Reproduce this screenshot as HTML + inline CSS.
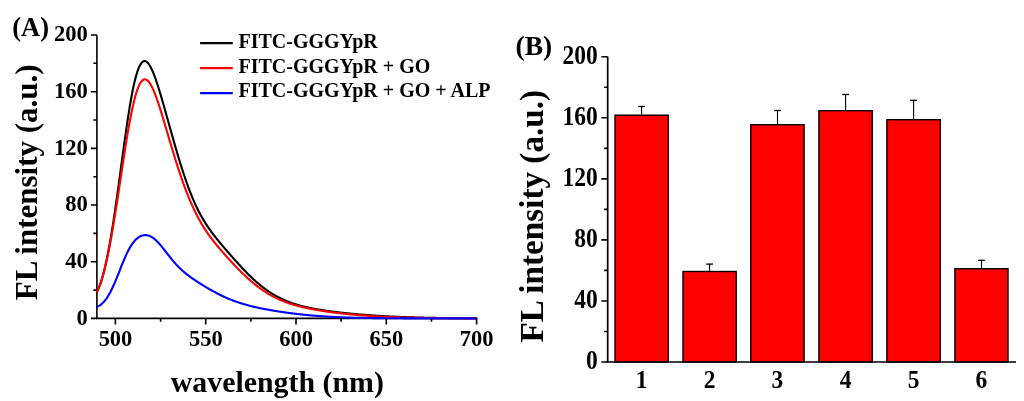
<!DOCTYPE html>
<html><head><meta charset="utf-8"><style>
html,body{margin:0;padding:0;background:#fff;}
body{width:1024px;height:401px;overflow:hidden;font-family:"Liberation Serif",serif;}
svg{display:block;will-change:transform;}
</style></head><body>
<svg width="1024" height="401" viewBox="0 0 1024 401">
<rect width="1024" height="401" fill="#fff"/>
<path d="M96.9,35.0 V318.4 M96.10000000000001,318.4 H477.5" stroke="#000" stroke-width="1.6" fill="none"/>
<path d="M96.9,291.80 L97.4,290.83 L97.9,289.79 L98.4,288.68 L98.9,287.51 L99.4,286.27 L99.9,284.95 L100.4,283.56 L100.9,282.10 L101.4,280.56 L101.9,278.95 L102.4,277.25 L102.9,275.48 L103.4,273.63 L103.9,271.70 L104.4,269.69 L104.9,267.59 L105.4,265.42 L105.9,263.18 L106.4,260.87 L106.9,258.49 L107.4,256.03 L107.9,253.51 L108.4,250.92 L108.9,248.26 L109.4,245.53 L109.9,242.74 L110.4,239.88 L110.9,236.95 L111.4,233.96 L111.9,230.90 L112.4,227.79 L112.9,224.61 L113.4,221.38 L113.9,218.10 L114.4,214.76 L114.9,211.38 L115.4,207.94 L115.9,204.47 L116.4,200.95 L116.9,197.40 L117.4,193.82 L117.9,190.20 L118.4,186.56 L118.9,182.90 L119.4,179.22 L119.9,175.53 L120.4,171.82 L120.9,168.12 L121.4,164.41 L121.9,160.71 L122.4,157.01 L122.9,153.33 L123.4,149.67 L123.9,146.02 L124.4,142.41 L124.9,138.83 L125.4,135.29 L125.9,131.78 L126.4,128.33 L126.9,124.92 L127.4,121.57 L127.9,118.28 L128.4,115.05 L128.9,111.89 L129.4,108.80 L129.9,105.79 L130.4,102.85 L130.9,100.00 L131.4,97.23 L131.9,94.55 L132.4,91.97 L132.9,89.48 L133.4,87.08 L133.9,84.78 L134.4,82.59 L134.9,80.50 L135.4,78.51 L135.9,76.63 L136.4,74.85 L136.9,73.19 L137.4,71.63 L137.9,70.18 L138.4,68.84 L138.9,67.61 L139.4,66.49 L139.9,65.47 L140.4,64.57 L140.9,63.77 L141.4,63.08 L141.9,62.49 L142.4,62.01 L142.9,61.63 L143.4,61.35 L143.9,61.16 L144.4,61.07 L144.9,61.08 L145.4,61.18 L145.9,61.37 L146.4,61.64 L146.9,62.00 L147.4,62.45 L147.9,62.97 L148.4,63.57 L148.9,64.24 L149.4,64.98 L149.9,65.79 L150.4,66.67 L150.9,67.61 L151.4,68.61 L151.9,69.67 L152.4,70.78 L152.9,71.95 L153.4,73.16 L153.9,74.42 L154.4,75.73 L154.9,77.08 L155.4,78.46 L155.9,79.89 L156.4,81.34 L156.9,82.84 L157.4,84.36 L157.9,85.91 L158.4,87.48 L158.9,89.08 L159.4,90.71 L159.9,92.35 L160.4,94.01 L160.9,95.69 L161.4,97.39 L161.9,99.10 L162.4,100.82 L162.9,102.56 L163.4,104.30 L163.9,106.06 L164.4,107.82 L164.9,109.59 L165.4,111.37 L165.9,113.15 L166.4,114.93 L166.9,116.72 L167.4,118.51 L167.9,120.30 L168.4,122.09 L168.9,123.89 L169.4,125.68 L169.9,127.47 L170.4,129.25 L170.9,131.04 L171.4,132.82 L171.9,134.59 L172.4,136.36 L172.9,138.13 L173.4,139.88 L173.9,141.64 L174.4,143.38 L174.9,145.12 L175.4,146.85 L175.9,148.57 L176.4,150.28 L176.9,151.98 L177.4,153.67 L177.9,155.35 L178.4,157.02 L178.9,158.68 L179.4,160.32 L179.9,161.95 L180.4,163.57 L180.9,165.18 L181.4,166.77 L181.9,168.34 L182.4,169.91 L182.9,171.45 L183.4,172.98 L183.9,174.50 L184.4,176.00 L184.9,177.48 L185.4,178.94 L185.9,180.39 L186.4,181.82 L186.9,183.24 L187.4,184.63 L187.9,186.01 L188.4,187.37 L188.9,188.71 L189.4,190.04 L189.9,191.34 L190.4,192.63 L190.9,193.89 L191.4,195.14 L191.9,196.37 L192.4,197.58 L192.9,198.78 L193.4,199.95 L193.9,201.10 L194.4,202.24 L194.9,203.36 L195.4,204.46 L195.9,205.55 L196.4,206.61 L196.9,207.66 L197.4,208.69 L197.9,209.70 L198.4,210.70 L198.9,211.68 L199.4,212.64 L199.9,213.59 L200.4,214.53 L200.9,215.44 L201.4,216.35 L201.9,217.23 L202.4,218.11 L202.9,218.97 L203.4,219.81 L203.9,220.65 L204.4,221.47 L204.9,222.28 L205.4,223.07 L205.9,223.86 L206.4,224.63 L206.9,225.40 L207.4,226.15 L207.9,226.89 L208.4,227.63 L208.9,228.35 L209.4,229.06 L209.9,229.77 L210.4,230.47 L210.9,231.16 L211.4,231.84 L211.9,232.52 L212.4,233.19 L212.9,233.85 L213.4,234.51 L213.9,235.16 L214.4,235.81 L214.9,236.45 L215.4,237.09 L215.9,237.72 L216.4,238.35 L216.9,238.97 L217.4,239.59 L217.9,240.20 L218.4,240.82 L218.9,241.43 L219.4,242.03 L219.9,242.64 L220.4,243.24 L220.9,243.84 L221.4,244.43 L221.9,245.03 L222.4,245.62 L222.9,246.21 L223.4,246.80 L223.9,247.39 L224.4,247.97 L224.9,248.56 L225.4,249.14 L225.9,249.72 L226.4,250.30 L226.9,250.88 L227.4,251.46 L227.9,252.03 L228.4,252.61 L228.9,253.18 L229.4,253.76 L229.9,254.33 L230.4,254.90 L230.9,255.47 L231.4,256.04 L231.9,256.61 L232.4,257.17 L232.9,257.74 L233.4,258.30 L233.9,258.87 L234.4,259.43 L234.9,259.99 L235.4,260.55 L235.9,261.11 L236.4,261.66 L236.9,262.22 L237.4,262.77 L237.9,263.32 L238.4,263.87 L238.9,264.42 L239.4,264.97 L239.9,265.51 L240.4,266.05 L240.9,266.59 L241.4,267.13 L241.9,267.66 L242.4,268.20 L242.9,268.73 L243.4,269.26 L243.9,269.78 L244.4,270.31 L244.9,270.83 L245.4,271.35 L245.9,271.86 L246.4,272.37 L246.9,272.88 L247.4,273.39 L247.9,273.89 L248.4,274.39 L248.9,274.89 L249.4,275.38 L249.9,275.87 L250.4,276.36 L250.9,276.84 L251.4,277.32 L251.9,277.80 L252.4,278.27 L252.9,278.74 L253.4,279.21 L253.9,279.67 L254.4,280.13 L254.9,280.58 L255.4,281.03 L255.9,281.48 L256.4,281.92 L256.9,282.36 L257.4,282.80 L257.9,283.23 L258.4,283.65 L258.9,284.07 L259.4,284.49 L259.9,284.91 L260.4,285.32 L260.9,285.72 L261.4,286.12 L261.9,286.52 L262.4,286.91 L262.9,287.30 L263.4,287.69 L263.9,288.07 L264.4,288.44 L264.9,288.81 L265.4,289.18 L265.9,289.54 L266.4,289.90 L266.9,290.26 L267.4,290.61 L267.9,290.95 L268.4,291.30 L268.9,291.63 L269.4,291.97 L269.9,292.30 L270.4,292.62 L270.9,292.94 L271.4,293.26 L271.9,293.57 L272.4,293.88 L272.9,294.18 L273.4,294.49 L273.9,294.78 L274.4,295.07 L274.9,295.36 L275.4,295.65 L275.9,295.93 L276.4,296.21 L276.9,296.48 L277.4,296.75 L277.9,297.01 L278.4,297.27 L278.9,297.53 L279.4,297.79 L279.9,298.04 L280.4,298.28 L280.9,298.53 L281.4,298.77 L281.9,299.00 L282.4,299.24 L282.9,299.47 L283.4,299.69 L283.9,299.92 L284.4,300.14 L284.9,300.35 L285.4,300.57 L285.9,300.78 L286.4,300.98 L286.9,301.19 L287.4,301.39 L287.9,301.58 L288.4,301.78 L288.9,301.97 L289.4,302.16 L289.9,302.35 L290.4,302.53 L290.9,302.71 L291.4,302.89 L291.9,303.06 L292.4,303.24 L292.9,303.41 L293.4,303.57 L293.9,303.74 L294.4,303.90 L294.9,304.06 L295.4,304.22 L295.9,304.37 L296.4,304.53 L296.9,304.68 L297.4,304.83 L297.9,304.97 L298.4,305.12 L298.9,305.26 L299.4,305.40 L299.9,305.54 L300.4,305.67 L300.9,305.81 L301.4,305.94 L301.9,306.07 L302.4,306.20 L302.9,306.33 L303.4,306.45 L303.9,306.57 L304.4,306.70 L304.9,306.82 L305.4,306.93 L305.9,307.05 L306.4,307.17 L306.9,307.28 L307.4,307.39 L307.9,307.50 L308.4,307.61 L308.9,307.72 L309.4,307.82 L309.9,307.93 L310.4,308.03 L310.9,308.13 L311.4,308.23 L311.9,308.33 L312.4,308.43 L312.9,308.53 L313.4,308.63 L313.9,308.72 L314.4,308.81 L314.9,308.91 L315.4,309.00 L315.9,309.09 L316.4,309.18 L316.9,309.27 L317.4,309.35 L317.9,309.44 L318.4,309.52 L318.9,309.61 L319.4,309.69 L319.9,309.77 L320.4,309.86 L320.9,309.94 L321.4,310.02 L321.9,310.10 L322.4,310.17 L322.9,310.25 L323.4,310.33 L323.9,310.40 L324.4,310.48 L324.9,310.55 L325.4,310.63 L325.9,310.70 L326.4,310.77 L326.9,310.84 L327.4,310.92 L327.9,310.99 L328.4,311.06 L328.9,311.12 L329.4,311.19 L329.9,311.26 L330.4,311.33 L330.9,311.39 L331.4,311.46 L331.9,311.53 L332.4,311.59 L332.9,311.65 L333.4,311.72 L333.9,311.78 L334.4,311.84 L334.9,311.91 L335.4,311.97 L335.9,312.03 L336.4,312.09 L336.9,312.15 L337.4,312.21 L337.9,312.27 L338.4,312.33 L338.9,312.39 L339.4,312.44 L339.9,312.50 L340.4,312.56 L340.9,312.61 L341.4,312.67 L341.9,312.73 L342.4,312.78 L342.9,312.84 L343.4,312.89 L343.9,312.94 L344.4,313.00 L344.9,313.05 L345.4,313.10 L345.9,313.15 L346.4,313.21 L346.9,313.26 L347.4,313.31 L347.9,313.36 L348.4,313.41 L348.9,313.46 L349.4,313.51 L349.9,313.56 L350.4,313.61 L350.9,313.66 L351.4,313.70 L351.9,313.75 L352.4,313.80 L352.9,313.85 L353.4,313.89 L353.9,313.94 L354.4,313.99 L354.9,314.03 L355.4,314.08 L355.9,314.12 L356.4,314.17 L356.9,314.21 L357.4,314.26 L357.9,314.30 L358.4,314.34 L358.9,314.39 L359.4,314.43 L359.9,314.47 L360.4,314.51 L360.9,314.55 L361.4,314.60 L361.9,314.64 L362.4,314.68 L362.9,314.72 L363.4,314.76 L363.9,314.80 L364.4,314.84 L364.9,314.88 L365.4,314.92 L365.9,314.95 L366.4,314.99 L366.9,315.03 L367.4,315.07 L367.9,315.11 L368.4,315.14 L368.9,315.18 L369.4,315.22 L369.9,315.25 L370.4,315.29 L370.9,315.32 L371.4,315.36 L371.9,315.39 L372.4,315.43 L372.9,315.46 L373.4,315.50 L373.9,315.53 L374.4,315.56 L374.9,315.60 L375.4,315.63 L375.9,315.66 L376.4,315.70 L376.9,315.73 L377.4,315.76 L377.9,315.79 L378.4,315.82 L378.9,315.85 L379.4,315.88 L379.9,315.91 L380.4,315.94 L380.9,315.97 L381.4,316.00 L381.9,316.03 L382.4,316.06 L382.9,316.09 L383.4,316.12 L383.9,316.15 L384.4,316.18 L384.9,316.20 L385.4,316.23 L385.9,316.26 L386.4,316.29 L386.9,316.31 L387.4,316.34 L387.9,316.37 L388.4,316.39 L388.9,316.42 L389.4,316.44 L389.9,316.47 L390.4,316.49 L390.9,316.52 L391.4,316.54 L391.9,316.57 L392.4,316.59 L392.9,316.61 L393.4,316.64 L393.9,316.66 L394.4,316.68 L394.9,316.71 L395.4,316.73 L395.9,316.75 L396.4,316.77 L396.9,316.79 L397.4,316.82 L397.9,316.84 L398.4,316.86 L398.9,316.88 L399.4,316.90 L399.9,316.92 L400.4,316.94 L400.9,316.96 L401.4,316.98 L401.9,317.00 L402.4,317.02 L402.9,317.04 L403.4,317.06 L403.9,317.08 L404.4,317.10 L404.9,317.11 L405.4,317.13 L405.9,317.15 L406.4,317.17 L406.9,317.18 L407.4,317.20 L407.9,317.22 L408.4,317.24 L408.9,317.25 L409.4,317.27 L409.9,317.29 L410.4,317.30 L410.9,317.32 L411.4,317.33 L411.9,317.35 L412.4,317.36 L412.9,317.38 L413.4,317.39 L413.9,317.41 L414.4,317.42 L414.9,317.44 L415.4,317.45 L415.9,317.47 L416.4,317.48 L416.9,317.49 L417.4,317.51 L417.9,317.52 L418.4,317.53 L418.9,317.55 L419.4,317.56 L419.9,317.57 L420.4,317.59 L420.9,317.60 L421.4,317.61 L421.9,317.62 L422.4,317.63 L422.9,317.65 L423.4,317.66 L423.9,317.67 L424.4,317.68 L424.9,317.69 L425.4,317.70 L425.9,317.71 L426.4,317.73 L426.9,317.74 L427.4,317.75 L427.9,317.76 L428.4,317.77 L428.9,317.78 L429.4,317.79 L429.9,317.80 L430.4,317.81 L430.9,317.82 L431.4,317.83 L431.9,317.83 L432.4,317.84 L432.9,317.85 L433.4,317.86 L433.9,317.87 L434.4,317.88 L434.9,317.89 L435.4,317.90 L435.9,317.90 L436.4,317.91 L436.9,317.92 L437.4,317.93 L437.9,317.94 L438.4,317.94 L438.9,317.95 L439.4,317.96 L439.9,317.97 L440.4,317.97 L440.9,317.98 L441.4,317.99 L441.9,318.00 L442.4,318.00 L442.9,318.01 L443.4,318.02 L443.9,318.02 L444.4,318.03 L444.9,318.04 L445.4,318.04 L445.9,318.05 L446.4,318.05 L446.9,318.06 L447.4,318.07 L447.9,318.07 L448.4,318.08 L448.9,318.08 L449.4,318.09 L449.9,318.09 L450.4,318.10 L450.9,318.10 L451.4,318.11 L451.9,318.11 L452.4,318.12 L452.9,318.12 L453.4,318.13 L453.9,318.13 L454.4,318.14 L454.9,318.14 L455.4,318.15 L455.9,318.15 L456.4,318.16 L456.9,318.16 L457.4,318.17 L457.9,318.17 L458.4,318.17 L458.9,318.18 L459.4,318.18 L459.9,318.19 L460.4,318.19 L460.9,318.19 L461.4,318.20 L461.9,318.20 L462.4,318.21 L462.9,318.21 L463.4,318.21 L463.9,318.22 L464.4,318.22 L464.9,318.22 L465.4,318.23 L465.9,318.23 L466.4,318.23 L466.9,318.24 L467.4,318.24 L467.9,318.24 L468.4,318.25 L468.9,318.25 L469.4,318.25 L469.9,318.25 L470.4,318.26 L470.9,318.26 L471.4,318.26 L471.9,318.27 L472.4,318.27 L472.9,318.27 L473.4,318.27 L473.9,318.28 L474.4,318.28 L474.9,318.28 L475.4,318.28 L475.9,318.28 L476.4,318.29" fill="none" stroke="#000" stroke-width="2.1" stroke-linejoin="round"/>
<path d="M96.9,292.20 L97.4,291.17 L97.9,290.09 L98.4,288.94 L98.9,287.73 L99.4,286.46 L99.9,285.12 L100.4,283.72 L100.9,282.26 L101.4,280.73 L101.9,279.13 L102.4,277.46 L102.9,275.72 L103.4,273.92 L103.9,272.04 L104.4,270.10 L104.9,268.08 L105.4,266.00 L105.9,263.86 L106.4,261.66 L106.9,259.40 L107.4,257.08 L107.9,254.70 L108.4,252.26 L108.9,249.76 L109.4,247.21 L109.9,244.60 L110.4,241.93 L110.9,239.21 L111.4,236.44 L111.9,233.61 L112.4,230.74 L112.9,227.82 L113.4,224.85 L113.9,221.84 L114.4,218.79 L114.9,215.69 L115.4,212.57 L115.9,209.40 L116.4,206.21 L116.9,202.99 L117.4,199.74 L117.9,196.47 L118.4,193.19 L118.9,189.88 L119.4,186.57 L119.9,183.24 L120.4,179.91 L120.9,176.58 L121.4,173.25 L121.9,169.93 L122.4,166.62 L122.9,163.32 L123.4,160.04 L123.9,156.78 L124.4,153.55 L124.9,150.34 L125.4,147.17 L125.9,144.04 L126.4,140.94 L126.9,137.89 L127.4,134.89 L127.9,131.94 L128.4,129.04 L128.9,126.21 L129.4,123.43 L129.9,120.72 L130.4,118.08 L130.9,115.51 L131.4,113.02 L131.9,110.60 L132.4,108.26 L132.9,106.00 L133.4,103.82 L133.9,101.73 L134.4,99.73 L134.9,97.82 L135.4,96.00 L135.9,94.27 L136.4,92.63 L136.9,91.09 L137.4,89.64 L137.9,88.29 L138.4,87.04 L138.9,85.88 L139.4,84.82 L139.9,83.85 L140.4,82.98 L140.9,82.21 L141.4,81.53 L141.9,80.95 L142.4,80.46 L142.9,80.06 L143.4,79.76 L143.9,79.54 L144.4,79.41 L144.9,79.37 L145.4,79.42 L145.9,79.54 L146.4,79.75 L146.9,80.04 L147.4,80.41 L147.9,80.85 L148.4,81.37 L148.9,81.95 L149.4,82.61 L149.9,83.33 L150.4,84.11 L150.9,84.96 L151.4,85.87 L151.9,86.83 L152.4,87.85 L152.9,88.91 L153.4,90.03 L153.9,91.20 L154.4,92.41 L154.9,93.66 L155.4,94.96 L155.9,96.29 L156.4,97.65 L156.9,99.05 L157.4,100.49 L157.9,101.95 L158.4,103.44 L158.9,104.95 L159.4,106.49 L159.9,108.04 L160.4,109.62 L160.9,111.22 L161.4,112.83 L161.9,114.46 L162.4,116.10 L162.9,117.75 L163.4,119.41 L163.9,121.08 L164.4,122.76 L164.9,124.44 L165.4,126.13 L165.9,127.82 L166.4,129.52 L166.9,131.21 L167.4,132.91 L167.9,134.61 L168.4,136.30 L168.9,138.00 L169.4,139.69 L169.9,141.38 L170.4,143.06 L170.9,144.74 L171.4,146.41 L171.9,148.07 L172.4,149.73 L172.9,151.38 L173.4,153.03 L173.9,154.66 L174.4,156.28 L174.9,157.90 L175.4,159.50 L175.9,161.10 L176.4,162.68 L176.9,164.26 L177.4,165.82 L177.9,167.36 L178.4,168.90 L178.9,170.42 L179.4,171.94 L179.9,173.43 L180.4,174.92 L180.9,176.39 L181.4,177.84 L181.9,179.28 L182.4,180.71 L182.9,182.12 L183.4,183.52 L183.9,184.90 L184.4,186.27 L184.9,187.62 L185.4,188.96 L185.9,190.28 L186.4,191.58 L186.9,192.87 L187.4,194.14 L187.9,195.40 L188.4,196.64 L188.9,197.87 L189.4,199.08 L189.9,200.27 L190.4,201.45 L190.9,202.61 L191.4,203.75 L191.9,204.88 L192.4,205.99 L192.9,207.09 L193.4,208.17 L193.9,209.24 L194.4,210.29 L194.9,211.32 L195.4,212.34 L195.9,213.35 L196.4,214.34 L196.9,215.31 L197.4,216.27 L197.9,217.22 L198.4,218.16 L198.9,219.07 L199.4,219.98 L199.9,220.87 L200.4,221.75 L200.9,222.62 L201.4,223.47 L201.9,224.32 L202.4,225.15 L202.9,225.96 L203.4,226.77 L203.9,227.57 L204.4,228.35 L204.9,229.13 L205.4,229.89 L205.9,230.65 L206.4,231.39 L206.9,232.13 L207.4,232.86 L207.9,233.58 L208.4,234.29 L208.9,234.99 L209.4,235.68 L209.9,236.37 L210.4,237.05 L210.9,237.72 L211.4,238.39 L211.9,239.05 L212.4,239.70 L212.9,240.35 L213.4,240.99 L213.9,241.63 L214.4,242.26 L214.9,242.89 L215.4,243.51 L215.9,244.13 L216.4,244.74 L216.9,245.35 L217.4,245.96 L217.9,246.56 L218.4,247.16 L218.9,247.75 L219.4,248.34 L219.9,248.93 L220.4,249.52 L220.9,250.10 L221.4,250.68 L221.9,251.26 L222.4,251.83 L222.9,252.40 L223.4,252.97 L223.9,253.54 L224.4,254.11 L224.9,254.67 L225.4,255.23 L225.9,255.79 L226.4,256.35 L226.9,256.90 L227.4,257.46 L227.9,258.01 L228.4,258.56 L228.9,259.11 L229.4,259.65 L229.9,260.20 L230.4,260.74 L230.9,261.28 L231.4,261.82 L231.9,262.36 L232.4,262.89 L232.9,263.43 L233.4,263.96 L233.9,264.49 L234.4,265.02 L234.9,265.54 L235.4,266.07 L235.9,266.59 L236.4,267.11 L236.9,267.62 L237.4,268.14 L237.9,268.65 L238.4,269.16 L238.9,269.67 L239.4,270.18 L239.9,270.68 L240.4,271.18 L240.9,271.68 L241.4,272.17 L241.9,272.67 L242.4,273.16 L242.9,273.64 L243.4,274.13 L243.9,274.61 L244.4,275.09 L244.9,275.57 L245.4,276.04 L245.9,276.51 L246.4,276.97 L246.9,277.44 L247.4,277.90 L247.9,278.35 L248.4,278.81 L248.9,279.25 L249.4,279.70 L249.9,280.14 L250.4,280.58 L250.9,281.02 L251.4,281.45 L251.9,281.88 L252.4,282.30 L252.9,282.72 L253.4,283.14 L253.9,283.55 L254.4,283.96 L254.9,284.37 L255.4,284.77 L255.9,285.17 L256.4,285.56 L256.9,285.95 L257.4,286.34 L257.9,286.72 L258.4,287.10 L258.9,287.48 L259.4,287.85 L259.9,288.21 L260.4,288.58 L260.9,288.93 L261.4,289.29 L261.9,289.64 L262.4,289.99 L262.9,290.33 L263.4,290.67 L263.9,291.00 L264.4,291.33 L264.9,291.66 L265.4,291.99 L265.9,292.30 L266.4,292.62 L266.9,292.93 L267.4,293.24 L267.9,293.54 L268.4,293.84 L268.9,294.14 L269.4,294.43 L269.9,294.72 L270.4,295.00 L270.9,295.29 L271.4,295.56 L271.9,295.84 L272.4,296.11 L272.9,296.37 L273.4,296.64 L273.9,296.90 L274.4,297.15 L274.9,297.41 L275.4,297.65 L275.9,297.90 L276.4,298.14 L276.9,298.38 L277.4,298.62 L277.9,298.85 L278.4,299.08 L278.9,299.31 L279.4,299.53 L279.9,299.75 L280.4,299.97 L280.9,300.18 L281.4,300.39 L281.9,300.60 L282.4,300.80 L282.9,301.00 L283.4,301.20 L283.9,301.40 L284.4,301.59 L284.9,301.79 L285.4,301.97 L285.9,302.16 L286.4,302.34 L286.9,302.52 L287.4,302.70 L287.9,302.88 L288.4,303.05 L288.9,303.22 L289.4,303.39 L289.9,303.55 L290.4,303.72 L290.9,303.88 L291.4,304.04 L291.9,304.19 L292.4,304.35 L292.9,304.50 L293.4,304.65 L293.9,304.80 L294.4,304.95 L294.9,305.09 L295.4,305.24 L295.9,305.38 L296.4,305.52 L296.9,305.65 L297.4,305.79 L297.9,305.92 L298.4,306.05 L298.9,306.18 L299.4,306.31 L299.9,306.44 L300.4,306.56 L300.9,306.69 L301.4,306.81 L301.9,306.93 L302.4,307.05 L302.9,307.17 L303.4,307.28 L303.9,307.40 L304.4,307.51 L304.9,307.63 L305.4,307.74 L305.9,307.85 L306.4,307.95 L306.9,308.06 L307.4,308.17 L307.9,308.27 L308.4,308.38 L308.9,308.48 L309.4,308.58 L309.9,308.68 L310.4,308.78 L310.9,308.88 L311.4,308.97 L311.9,309.07 L312.4,309.16 L312.9,309.26 L313.4,309.35 L313.9,309.44 L314.4,309.53 L314.9,309.62 L315.4,309.71 L315.9,309.80 L316.4,309.89 L316.9,309.98 L317.4,310.06 L317.9,310.15 L318.4,310.23 L318.9,310.31 L319.4,310.40 L319.9,310.48 L320.4,310.56 L320.9,310.64 L321.4,310.72 L321.9,310.80 L322.4,310.88 L322.9,310.95 L323.4,311.03 L323.9,311.11 L324.4,311.18 L324.9,311.26 L325.4,311.33 L325.9,311.41 L326.4,311.48 L326.9,311.55 L327.4,311.62 L327.9,311.69 L328.4,311.76 L328.9,311.83 L329.4,311.90 L329.9,311.97 L330.4,312.04 L330.9,312.11 L331.4,312.17 L331.9,312.24 L332.4,312.31 L332.9,312.37 L333.4,312.44 L333.9,312.50 L334.4,312.56 L334.9,312.63 L335.4,312.69 L335.9,312.75 L336.4,312.81 L336.9,312.88 L337.4,312.94 L337.9,313.00 L338.4,313.06 L338.9,313.12 L339.4,313.17 L339.9,313.23 L340.4,313.29 L340.9,313.35 L341.4,313.40 L341.9,313.46 L342.4,313.52 L342.9,313.57 L343.4,313.63 L343.9,313.68 L344.4,313.74 L344.9,313.79 L345.4,313.84 L345.9,313.90 L346.4,313.95 L346.9,314.00 L347.4,314.05 L347.9,314.10 L348.4,314.15 L348.9,314.20 L349.4,314.25 L349.9,314.30 L350.4,314.35 L350.9,314.40 L351.4,314.45 L351.9,314.50 L352.4,314.54 L352.9,314.59 L353.4,314.64 L353.9,314.68 L354.4,314.73 L354.9,314.77 L355.4,314.82 L355.9,314.86 L356.4,314.91 L356.9,314.95 L357.4,315.00 L357.9,315.04 L358.4,315.08 L358.9,315.12 L359.4,315.16 L359.9,315.21 L360.4,315.25 L360.9,315.29 L361.4,315.33 L361.9,315.37 L362.4,315.41 L362.9,315.45 L363.4,315.48 L363.9,315.52 L364.4,315.56 L364.9,315.60 L365.4,315.64 L365.9,315.67 L366.4,315.71 L366.9,315.74 L367.4,315.78 L367.9,315.82 L368.4,315.85 L368.9,315.89 L369.4,315.92 L369.9,315.95 L370.4,315.99 L370.9,316.02 L371.4,316.05 L371.9,316.09 L372.4,316.12 L372.9,316.15 L373.4,316.18 L373.9,316.21 L374.4,316.24 L374.9,316.27 L375.4,316.31 L375.9,316.33 L376.4,316.36 L376.9,316.39 L377.4,316.42 L377.9,316.45 L378.4,316.48 L378.9,316.51 L379.4,316.54 L379.9,316.56 L380.4,316.59 L380.9,316.62 L381.4,316.64 L381.9,316.67 L382.4,316.69 L382.9,316.72 L383.4,316.75 L383.9,316.77 L384.4,316.79 L384.9,316.82 L385.4,316.84 L385.9,316.87 L386.4,316.89 L386.9,316.91 L387.4,316.94 L387.9,316.96 L388.4,316.98 L388.9,317.00 L389.4,317.02 L389.9,317.05 L390.4,317.07 L390.9,317.09 L391.4,317.11 L391.9,317.13 L392.4,317.15 L392.9,317.17 L393.4,317.19 L393.9,317.21 L394.4,317.23 L394.9,317.25 L395.4,317.27 L395.9,317.28 L396.4,317.30 L396.9,317.32 L397.4,317.34 L397.9,317.35 L398.4,317.37 L398.9,317.39 L399.4,317.41 L399.9,317.42 L400.4,317.44 L400.9,317.45 L401.4,317.47 L401.9,317.49 L402.4,317.50 L402.9,317.52 L403.4,317.53 L403.9,317.55 L404.4,317.56 L404.9,317.58 L405.4,317.59 L405.9,317.60 L406.4,317.62 L406.9,317.63 L407.4,317.64 L407.9,317.66 L408.4,317.67 L408.9,317.68 L409.4,317.70 L409.9,317.71 L410.4,317.72 L410.9,317.73 L411.4,317.74 L411.9,317.76 L412.4,317.77 L412.9,317.78 L413.4,317.79 L413.9,317.80 L414.4,317.81 L414.9,317.82 L415.4,317.83 L415.9,317.84 L416.4,317.85 L416.9,317.86 L417.4,317.87 L417.9,317.88 L418.4,317.89 L418.9,317.90 L419.4,317.91 L419.9,317.92 L420.4,317.93 L420.9,317.94 L421.4,317.95 L421.9,317.95 L422.4,317.96 L422.9,317.97 L423.4,317.98 L423.9,317.99 L424.4,317.99 L424.9,318.00 L425.4,318.01 L425.9,318.02 L426.4,318.03 L426.9,318.03 L427.4,318.04 L427.9,318.05 L428.4,318.05 L428.9,318.06 L429.4,318.07 L429.9,318.07 L430.4,318.08 L430.9,318.09 L431.4,318.09 L431.9,318.10 L432.4,318.10 L432.9,318.11 L433.4,318.12 L433.9,318.12 L434.4,318.13 L434.9,318.13 L435.4,318.14 L435.9,318.14 L436.4,318.15 L436.9,318.15 L437.4,318.16 L437.9,318.16 L438.4,318.17 L438.9,318.17 L439.4,318.18 L439.9,318.18 L440.4,318.19 L440.9,318.19 L441.4,318.20 L441.9,318.20 L442.4,318.20 L442.9,318.21 L443.4,318.21 L443.9,318.22 L444.4,318.22 L444.9,318.22 L445.4,318.23 L445.9,318.23 L446.4,318.23 L446.9,318.24 L447.4,318.24 L447.9,318.24 L448.4,318.25 L448.9,318.25 L449.4,318.25 L449.9,318.26 L450.4,318.26 L450.9,318.26 L451.4,318.27 L451.9,318.27 L452.4,318.27 L452.9,318.28 L453.4,318.28 L453.9,318.28 L454.4,318.28 L454.9,318.29 L455.4,318.29 L455.9,318.29 L456.4,318.29 L456.9,318.30 L457.4,318.30 L457.9,318.30 L458.4,318.30 L458.9,318.30 L459.4,318.31 L459.9,318.31 L460.4,318.31 L460.9,318.31 L461.4,318.31 L461.9,318.32 L462.4,318.32 L462.9,318.32 L463.4,318.32 L463.9,318.32 L464.4,318.33 L464.9,318.33 L465.4,318.33 L465.9,318.33 L466.4,318.33 L466.9,318.33 L467.4,318.34 L467.9,318.34 L468.4,318.34 L468.9,318.34 L469.4,318.34 L469.9,318.34 L470.4,318.34 L470.9,318.35 L471.4,318.35 L471.9,318.35 L472.4,318.35 L472.9,318.35 L473.4,318.35 L473.9,318.35 L474.4,318.35 L474.9,318.35 L475.4,318.36 L475.9,318.36 L476.4,318.36" fill="none" stroke="#f00" stroke-width="2.1" stroke-linejoin="round"/>
<path d="M96.9,306.80 L97.4,306.61 L97.9,306.39 L98.4,306.15 L98.9,305.89 L99.4,305.60 L99.9,305.29 L100.4,304.95 L100.9,304.58 L101.4,304.19 L101.9,303.77 L102.4,303.32 L102.9,302.83 L103.4,302.32 L103.9,301.77 L104.4,301.20 L104.9,300.58 L105.4,299.94 L105.9,299.27 L106.4,298.58 L106.9,297.85 L107.4,297.10 L107.9,296.31 L108.4,295.50 L108.9,294.66 L109.4,293.79 L109.9,292.89 L110.4,291.96 L110.9,291.00 L111.4,290.01 L111.9,289.00 L112.4,287.96 L112.9,286.89 L113.4,285.80 L113.9,284.68 L114.4,283.54 L114.9,282.38 L115.4,281.20 L115.9,280.01 L116.4,278.79 L116.9,277.57 L117.4,276.33 L117.9,275.08 L118.4,273.82 L118.9,272.55 L119.4,271.29 L119.9,270.02 L120.4,268.75 L120.9,267.48 L121.4,266.23 L121.9,264.97 L122.4,263.73 L122.9,262.51 L123.4,261.29 L123.9,260.09 L124.4,258.92 L124.9,257.76 L125.4,256.62 L125.9,255.51 L126.4,254.42 L126.9,253.36 L127.4,252.33 L127.9,251.33 L128.4,250.35 L128.9,249.41 L129.4,248.50 L129.9,247.62 L130.4,246.77 L130.9,245.95 L131.4,245.17 L131.9,244.42 L132.4,243.70 L132.9,243.01 L133.4,242.35 L133.9,241.73 L134.4,241.14 L134.9,240.58 L135.4,240.05 L135.9,239.55 L136.4,239.08 L136.9,238.63 L137.4,238.22 L137.9,237.83 L138.4,237.47 L138.9,237.14 L139.4,236.84 L139.9,236.56 L140.4,236.30 L140.9,236.07 L141.4,235.87 L141.9,235.69 L142.4,235.54 L142.9,235.41 L143.4,235.30 L143.9,235.22 L144.4,235.16 L144.9,235.13 L145.4,235.12 L145.9,235.14 L146.4,235.17 L146.9,235.24 L147.4,235.32 L147.9,235.43 L148.4,235.56 L148.9,235.72 L149.4,235.90 L149.9,236.10 L150.4,236.32 L150.9,236.57 L151.4,236.84 L151.9,237.13 L152.4,237.45 L152.9,237.79 L153.4,238.14 L153.9,238.52 L154.4,238.92 L154.9,239.33 L155.4,239.77 L155.9,240.22 L156.4,240.70 L156.9,241.18 L157.4,241.69 L157.9,242.21 L158.4,242.74 L158.9,243.29 L159.4,243.85 L159.9,244.42 L160.4,245.01 L160.9,245.60 L161.4,246.20 L161.9,246.82 L162.4,247.43 L162.9,248.06 L163.4,248.69 L163.9,249.33 L164.4,249.96 L164.9,250.61 L165.4,251.25 L165.9,251.90 L166.4,252.54 L166.9,253.19 L167.4,253.83 L167.9,254.48 L168.4,255.12 L168.9,255.76 L169.4,256.39 L169.9,257.02 L170.4,257.65 L170.9,258.27 L171.4,258.89 L171.9,259.50 L172.4,260.10 L172.9,260.70 L173.4,261.29 L173.9,261.87 L174.4,262.45 L174.9,263.02 L175.4,263.58 L175.9,264.13 L176.4,264.68 L176.9,265.21 L177.4,265.74 L177.9,266.26 L178.4,266.78 L178.9,267.28 L179.4,267.78 L179.9,268.27 L180.4,268.75 L180.9,269.22 L181.4,269.69 L181.9,270.15 L182.4,270.60 L182.9,271.04 L183.4,271.48 L183.9,271.91 L184.4,272.34 L184.9,272.75 L185.4,273.17 L185.9,273.57 L186.4,273.97 L186.9,274.37 L187.4,274.76 L187.9,275.15 L188.4,275.53 L188.9,275.90 L189.4,276.27 L189.9,276.64 L190.4,277.00 L190.9,277.36 L191.4,277.72 L191.9,278.07 L192.4,278.42 L192.9,278.77 L193.4,279.11 L193.9,279.45 L194.4,279.79 L194.9,280.12 L195.4,280.46 L195.9,280.79 L196.4,281.12 L196.9,281.44 L197.4,281.77 L197.9,282.09 L198.4,282.41 L198.9,282.73 L199.4,283.05 L199.9,283.36 L200.4,283.68 L200.9,283.99 L201.4,284.30 L201.9,284.61 L202.4,284.92 L202.9,285.23 L203.4,285.54 L203.9,285.84 L204.4,286.14 L204.9,286.45 L205.4,286.75 L205.9,287.05 L206.4,287.34 L206.9,287.64 L207.4,287.94 L207.9,288.23 L208.4,288.52 L208.9,288.81 L209.4,289.10 L209.9,289.39 L210.4,289.68 L210.9,289.96 L211.4,290.24 L211.9,290.53 L212.4,290.80 L212.9,291.08 L213.4,291.36 L213.9,291.63 L214.4,291.91 L214.9,292.18 L215.4,292.45 L215.9,292.71 L216.4,292.98 L216.9,293.24 L217.4,293.50 L217.9,293.76 L218.4,294.02 L218.9,294.27 L219.4,294.52 L219.9,294.77 L220.4,295.02 L220.9,295.27 L221.4,295.51 L221.9,295.75 L222.4,295.99 L222.9,296.23 L223.4,296.46 L223.9,296.69 L224.4,296.92 L224.9,297.15 L225.4,297.38 L225.9,297.60 L226.4,297.82 L226.9,298.04 L227.4,298.26 L227.9,298.47 L228.4,298.68 L228.9,298.89 L229.4,299.10 L229.9,299.30 L230.4,299.50 L230.9,299.70 L231.4,299.90 L231.9,300.09 L232.4,300.29 L232.9,300.48 L233.4,300.67 L233.9,300.85 L234.4,301.04 L234.9,301.22 L235.4,301.40 L235.9,301.58 L236.4,301.75 L236.9,301.93 L237.4,302.10 L237.9,302.27 L238.4,302.43 L238.9,302.60 L239.4,302.76 L239.9,302.92 L240.4,303.08 L240.9,303.24 L241.4,303.40 L241.9,303.55 L242.4,303.70 L242.9,303.85 L243.4,304.00 L243.9,304.15 L244.4,304.29 L244.9,304.44 L245.4,304.58 L245.9,304.72 L246.4,304.86 L246.9,305.00 L247.4,305.13 L247.9,305.26 L248.4,305.40 L248.9,305.53 L249.4,305.66 L249.9,305.79 L250.4,305.91 L250.9,306.04 L251.4,306.16 L251.9,306.29 L252.4,306.41 L252.9,306.53 L253.4,306.65 L253.9,306.77 L254.4,306.88 L254.9,307.00 L255.4,307.11 L255.9,307.23 L256.4,307.34 L256.9,307.45 L257.4,307.56 L257.9,307.67 L258.4,307.78 L258.9,307.89 L259.4,307.99 L259.9,308.10 L260.4,308.20 L260.9,308.30 L261.4,308.41 L261.9,308.51 L262.4,308.61 L262.9,308.71 L263.4,308.81 L263.9,308.91 L264.4,309.00 L264.9,309.10 L265.4,309.20 L265.9,309.29 L266.4,309.38 L266.9,309.48 L267.4,309.57 L267.9,309.66 L268.4,309.75 L268.9,309.84 L269.4,309.93 L269.9,310.02 L270.4,310.11 L270.9,310.20 L271.4,310.29 L271.9,310.37 L272.4,310.46 L272.9,310.54 L273.4,310.63 L273.9,310.71 L274.4,310.80 L274.9,310.88 L275.4,310.96 L275.9,311.04 L276.4,311.12 L276.9,311.20 L277.4,311.28 L277.9,311.36 L278.4,311.44 L278.9,311.52 L279.4,311.60 L279.9,311.67 L280.4,311.75 L280.9,311.82 L281.4,311.90 L281.9,311.97 L282.4,312.05 L282.9,312.12 L283.4,312.19 L283.9,312.26 L284.4,312.34 L284.9,312.41 L285.4,312.48 L285.9,312.55 L286.4,312.62 L286.9,312.69 L287.4,312.75 L287.9,312.82 L288.4,312.89 L288.9,312.96 L289.4,313.02 L289.9,313.09 L290.4,313.15 L290.9,313.22 L291.4,313.28 L291.9,313.35 L292.4,313.41 L292.9,313.47 L293.4,313.53 L293.9,313.59 L294.4,313.66 L294.9,313.72 L295.4,313.78 L295.9,313.84 L296.4,313.89 L296.9,313.95 L297.4,314.01 L297.9,314.07 L298.4,314.12 L298.9,314.18 L299.4,314.24 L299.9,314.29 L300.4,314.35 L300.9,314.40 L301.4,314.46 L301.9,314.51 L302.4,314.56 L302.9,314.61 L303.4,314.67 L303.9,314.72 L304.4,314.77 L304.9,314.82 L305.4,314.87 L305.9,314.92 L306.4,314.97 L306.9,315.01 L307.4,315.06 L307.9,315.11 L308.4,315.16 L308.9,315.20 L309.4,315.25 L309.9,315.29 L310.4,315.34 L310.9,315.38 L311.4,315.43 L311.9,315.47 L312.4,315.51 L312.9,315.56 L313.4,315.60 L313.9,315.64 L314.4,315.68 L314.9,315.72 L315.4,315.76 L315.9,315.80 L316.4,315.84 L316.9,315.88 L317.4,315.92 L317.9,315.96 L318.4,316.00 L318.9,316.03 L319.4,316.07 L319.9,316.11 L320.4,316.14 L320.9,316.18 L321.4,316.21 L321.9,316.25 L322.4,316.28 L322.9,316.31 L323.4,316.35 L323.9,316.38 L324.4,316.41 L324.9,316.44 L325.4,316.48 L325.9,316.51 L326.4,316.54 L326.9,316.57 L327.4,316.60 L327.9,316.63 L328.4,316.66 L328.9,316.69 L329.4,316.72 L329.9,316.74 L330.4,316.77 L330.9,316.80 L331.4,316.83 L331.9,316.85 L332.4,316.88 L332.9,316.91 L333.4,316.93 L333.9,316.96 L334.4,316.98 L334.9,317.01 L335.4,317.03 L335.9,317.05 L336.4,317.08 L336.9,317.10 L337.4,317.12 L337.9,317.15 L338.4,317.17 L338.9,317.19 L339.4,317.21 L339.9,317.23 L340.4,317.25 L340.9,317.27 L341.4,317.30 L341.9,317.32 L342.4,317.34 L342.9,317.35 L343.4,317.37 L343.9,317.39 L344.4,317.41 L344.9,317.43 L345.4,317.45 L345.9,317.47 L346.4,317.48 L346.9,317.50 L347.4,317.52 L347.9,317.53 L348.4,317.55 L348.9,317.57 L349.4,317.58 L349.9,317.60 L350.4,317.61 L350.9,317.63 L351.4,317.64 L351.9,317.66 L352.4,317.67 L352.9,317.69 L353.4,317.70 L353.9,317.71 L354.4,317.73 L354.9,317.74 L355.4,317.75 L355.9,317.77 L356.4,317.78 L356.9,317.79 L357.4,317.80 L357.9,317.81 L358.4,317.83 L358.9,317.84 L359.4,317.85 L359.9,317.86 L360.4,317.87 L360.9,317.88 L361.4,317.89 L361.9,317.90 L362.4,317.91 L362.9,317.92 L363.4,317.93 L363.9,317.94 L364.4,317.95 L364.9,317.96 L365.4,317.97 L365.9,317.98 L366.4,317.99 L366.9,318.00 L367.4,318.01 L367.9,318.01 L368.4,318.02 L368.9,318.03 L369.4,318.04 L369.9,318.05 L370.4,318.05 L370.9,318.06 L371.4,318.07 L371.9,318.08 L372.4,318.08 L372.9,318.09 L373.4,318.10 L373.9,318.10 L374.4,318.11 L374.9,318.12 L375.4,318.12 L375.9,318.13 L376.4,318.13 L376.9,318.14 L377.4,318.15 L377.9,318.15 L378.4,318.16 L378.9,318.16 L379.4,318.17 L379.9,318.17 L380.4,318.18 L380.9,318.18 L381.4,318.19 L381.9,318.19 L382.4,318.20 L382.9,318.20 L383.4,318.21 L383.9,318.21 L384.4,318.22 L384.9,318.22 L385.4,318.22 L385.9,318.23 L386.4,318.23 L386.9,318.24 L387.4,318.24 L387.9,318.24 L388.4,318.25 L388.9,318.25 L389.4,318.25 L389.9,318.26 L390.4,318.26 L390.9,318.26 L391.4,318.27 L391.9,318.27 L392.4,318.27 L392.9,318.28 L393.4,318.28 L393.9,318.28 L394.4,318.29 L394.9,318.29 L395.4,318.29 L395.9,318.29 L396.4,318.30 L396.9,318.30 L397.4,318.30 L397.9,318.30 L398.4,318.31 L398.9,318.31 L399.4,318.31 L399.9,318.31 L400.4,318.32 L400.9,318.32 L401.4,318.32 L401.9,318.32 L402.4,318.32 L402.9,318.33 L403.4,318.33 L403.9,318.33 L404.4,318.33 L404.9,318.33 L405.4,318.33 L405.9,318.34 L406.4,318.34 L406.9,318.34 L407.4,318.34 L407.9,318.34 L408.4,318.34 L408.9,318.35 L409.4,318.35 L409.9,318.35 L410.4,318.35 L410.9,318.35 L411.4,318.35 L411.9,318.35 L412.4,318.35 L412.9,318.36 L413.4,318.36 L413.9,318.36 L414.4,318.36 L414.9,318.36 L415.4,318.36 L415.9,318.36 L416.4,318.36 L416.9,318.36 L417.4,318.37 L417.9,318.37 L418.4,318.37 L418.9,318.37 L419.4,318.37 L419.9,318.37 L420.4,318.37 L420.9,318.37 L421.4,318.37 L421.9,318.37 L422.4,318.37 L422.9,318.37 L423.4,318.38 L423.9,318.38 L424.4,318.38 L424.9,318.38 L425.4,318.38 L425.9,318.38 L426.4,318.38 L426.9,318.38 L427.4,318.38 L427.9,318.38 L428.4,318.38 L428.9,318.38 L429.4,318.38 L429.9,318.38 L430.4,318.38 L430.9,318.38 L431.4,318.38 L431.9,318.38 L432.4,318.39 L432.9,318.39 L433.4,318.39 L433.9,318.39 L434.4,318.39 L434.9,318.39 L435.4,318.39 L435.9,318.39 L436.4,318.39 L436.9,318.39 L437.4,318.39 L437.9,318.39 L438.4,318.39 L438.9,318.39 L439.4,318.39 L439.9,318.39 L440.4,318.39 L440.9,318.39 L441.4,318.39 L441.9,318.39 L442.4,318.39 L442.9,318.39 L443.4,318.39 L443.9,318.39 L444.4,318.39 L444.9,318.39 L445.4,318.39 L445.9,318.39 L446.4,318.39 L446.9,318.39 L447.4,318.39 L447.9,318.39 L448.4,318.39 L448.9,318.39 L449.4,318.39 L449.9,318.39 L450.4,318.40 L450.9,318.40 L451.4,318.40 L451.9,318.40 L452.4,318.40 L452.9,318.40 L453.4,318.40 L453.9,318.40 L454.4,318.40 L454.9,318.40 L455.4,318.40 L455.9,318.40 L456.4,318.40 L456.9,318.40 L457.4,318.40 L457.9,318.40 L458.4,318.40 L458.9,318.40 L459.4,318.40 L459.9,318.40 L460.4,318.40 L460.9,318.40 L461.4,318.40 L461.9,318.40 L462.4,318.40 L462.9,318.40 L463.4,318.40 L463.9,318.40 L464.4,318.40 L464.9,318.40 L465.4,318.40 L465.9,318.40 L466.4,318.40 L466.9,318.40 L467.4,318.40 L467.9,318.40 L468.4,318.40 L468.9,318.40 L469.4,318.40 L469.9,318.40 L470.4,318.40 L470.9,318.40 L471.4,318.40 L471.9,318.40 L472.4,318.40 L472.9,318.40 L473.4,318.40 L473.9,318.40 L474.4,318.40 L474.9,318.40 L475.4,318.40 L475.9,318.40 L476.4,318.40" fill="none" stroke="#00f" stroke-width="2.1" stroke-linejoin="round"/>
<path d="M90.9,318.4 H96.9 M93.30000000000001,290.1 H96.9 M90.9,261.7 H96.9 M93.30000000000001,233.4 H96.9 M90.9,205.0 H96.9 M93.30000000000001,176.7 H96.9 M90.9,148.4 H96.9 M93.30000000000001,120.0 H96.9 M90.9,91.7 H96.9 M93.30000000000001,63.3 H96.9 M90.9,35.0 H96.9 M115.4,318.4 V324.59999999999997 M160.6,318.4 V321.7 M205.7,318.4 V324.59999999999997 M250.9,318.4 V321.7 M296.0,318.4 V324.59999999999997 M341.1,318.4 V321.7 M386.3,318.4 V324.59999999999997 M431.5,318.4 V321.7 M476.6,318.4 V324.59999999999997" stroke="#000" stroke-width="1.6" fill="none"/>
<text transform="translate(87.90,324.80) scale(1.0,1.05)" text-anchor="end" style="font-family:'Liberation Serif',serif;font-weight:bold;font-size:22.6px">0</text>
<text transform="translate(87.90,268.12) scale(1.0,1.05)" text-anchor="end" style="font-family:'Liberation Serif',serif;font-weight:bold;font-size:22.6px">40</text>
<text transform="translate(87.90,211.44) scale(1.0,1.05)" text-anchor="end" style="font-family:'Liberation Serif',serif;font-weight:bold;font-size:22.6px">80</text>
<text transform="translate(87.90,154.76) scale(1.0,1.05)" text-anchor="end" style="font-family:'Liberation Serif',serif;font-weight:bold;font-size:22.6px">120</text>
<text transform="translate(87.90,98.08) scale(1.0,1.05)" text-anchor="end" style="font-family:'Liberation Serif',serif;font-weight:bold;font-size:22.6px">160</text>
<text transform="translate(87.90,41.40) scale(1.0,1.05)" text-anchor="end" style="font-family:'Liberation Serif',serif;font-weight:bold;font-size:22.6px">200</text>
<text transform="translate(115.50,346.00) scale(1.0,1.03)" text-anchor="middle" style="font-family:'Liberation Serif',serif;font-weight:bold;font-size:22.5px">500</text>
<text transform="translate(205.80,346.00) scale(1.0,1.03)" text-anchor="middle" style="font-family:'Liberation Serif',serif;font-weight:bold;font-size:22.5px">550</text>
<text transform="translate(296.10,346.00) scale(1.0,1.03)" text-anchor="middle" style="font-family:'Liberation Serif',serif;font-weight:bold;font-size:22.5px">600</text>
<text transform="translate(386.40,346.00) scale(1.0,1.03)" text-anchor="middle" style="font-family:'Liberation Serif',serif;font-weight:bold;font-size:22.5px">650</text>
<text transform="translate(476.70,346.00) scale(1.0,1.03)" text-anchor="middle" style="font-family:'Liberation Serif',serif;font-weight:bold;font-size:22.5px">700</text>
<text transform="translate(12.20,35.50) scale(1.0,1.05)" style="font-family:'Liberation Serif',serif;font-weight:bold;font-size:26.5px">(A)</text>
<text transform="translate(36.8,300.3) rotate(-90)" style="font-family:'Liberation Serif',serif;font-weight:bold;font-size:31px">FL intensity (a.u.)</text>
<text x="170.80" y="392.00" style="font-family:'Liberation Serif',serif;font-weight:bold;font-size:29.85px">wavelength (nm)</text>
<line x1="200.1" y1="43.2" x2="232.8" y2="43.2" stroke="#000" stroke-width="2.2"/>
<text x="238.50" y="47.70" style="font-family:'Liberation Serif',serif;font-weight:bold;font-size:20px">FITC-GGGYpR</text>
<line x1="200.1" y1="68.2" x2="232.8" y2="68.2" stroke="#f00" stroke-width="2.2"/>
<text x="238.50" y="72.50" style="font-family:'Liberation Serif',serif;font-weight:bold;font-size:20px">FITC-GGGYpR + GO</text>
<line x1="200.1" y1="93.2" x2="232.8" y2="93.2" stroke="#00f" stroke-width="2.2"/>
<text x="238.50" y="97.30" style="font-family:'Liberation Serif',serif;font-weight:bold;font-size:20px">FITC-GGGYpR + GO + ALP</text>
<path d="M607.7,56.8 V362.0" stroke="#000" stroke-width="1.7" fill="none"/>
<path d="M601.4000000000001,362.0 H607.7 M604.1,331.5 H607.7 M601.4000000000001,301.0 H607.7 M604.1,270.4 H607.7 M601.4000000000001,239.9 H607.7 M604.1,209.4 H607.7 M601.4000000000001,178.9 H607.7 M604.1,148.4 H607.7 M601.4000000000001,117.8 H607.7 M604.1,87.3 H607.7 M601.4000000000001,56.8 H607.7" stroke="#000" stroke-width="1.6" fill="none"/>
<text transform="translate(597.80,369.00) scale(1.0,1.13)" text-anchor="end" style="font-family:'Liberation Serif',serif;font-weight:bold;font-size:23.5px">0</text>
<text transform="translate(597.80,307.96) scale(1.0,1.13)" text-anchor="end" style="font-family:'Liberation Serif',serif;font-weight:bold;font-size:23.5px">40</text>
<text transform="translate(597.80,246.92) scale(1.0,1.13)" text-anchor="end" style="font-family:'Liberation Serif',serif;font-weight:bold;font-size:23.5px">80</text>
<text transform="translate(597.80,185.88) scale(1.0,1.13)" text-anchor="end" style="font-family:'Liberation Serif',serif;font-weight:bold;font-size:23.5px">120</text>
<text transform="translate(597.80,124.84) scale(1.0,1.13)" text-anchor="end" style="font-family:'Liberation Serif',serif;font-weight:bold;font-size:23.5px">160</text>
<text transform="translate(597.80,63.80) scale(1.0,1.13)" text-anchor="end" style="font-family:'Liberation Serif',serif;font-weight:bold;font-size:23.5px">200</text>
<path d="M641.6,114.5 V106.5" stroke="#000" stroke-width="1.1" fill="none"/>
<path d="M638.2,106.5 H645.0" stroke="#000" stroke-width="1.3" fill="none"/>
<rect x="615.0" y="115.2" width="53.3" height="246.8" fill="#f00" stroke="#000" stroke-width="1.4"/>
<text transform="translate(641.65,387.60) scale(1.0,1.1)" text-anchor="middle" style="font-family:'Liberation Serif',serif;font-weight:bold;font-size:23.5px">1</text>
<path d="M709.6,270.8 V264.1" stroke="#000" stroke-width="1.1" fill="none"/>
<path d="M706.2,264.1 H713.0" stroke="#000" stroke-width="1.3" fill="none"/>
<rect x="683.0" y="271.5" width="53.2" height="90.5" fill="#f00" stroke="#000" stroke-width="1.4"/>
<text transform="translate(709.60,387.60) scale(1.0,1.1)" text-anchor="middle" style="font-family:'Liberation Serif',serif;font-weight:bold;font-size:23.5px">2</text>
<path d="M777.5,124.0 V110.5" stroke="#000" stroke-width="1.1" fill="none"/>
<path d="M774.1,110.5 H780.9" stroke="#000" stroke-width="1.3" fill="none"/>
<rect x="750.8" y="124.7" width="53.3" height="237.3" fill="#f00" stroke="#000" stroke-width="1.4"/>
<text transform="translate(777.45,387.60) scale(1.0,1.1)" text-anchor="middle" style="font-family:'Liberation Serif',serif;font-weight:bold;font-size:23.5px">3</text>
<path d="M845.6,110.0 V94.5" stroke="#000" stroke-width="1.1" fill="none"/>
<path d="M842.2,94.5 H849.0" stroke="#000" stroke-width="1.3" fill="none"/>
<rect x="818.9" y="110.7" width="53.4" height="251.3" fill="#f00" stroke="#000" stroke-width="1.4"/>
<text transform="translate(845.60,387.60) scale(1.0,1.1)" text-anchor="middle" style="font-family:'Liberation Serif',serif;font-weight:bold;font-size:23.5px">4</text>
<path d="M913.6,119.0 V100.3" stroke="#000" stroke-width="1.1" fill="none"/>
<path d="M910.2,100.3 H917.0" stroke="#000" stroke-width="1.3" fill="none"/>
<rect x="886.9" y="119.7" width="53.4" height="242.3" fill="#f00" stroke="#000" stroke-width="1.4"/>
<text transform="translate(913.60,387.60) scale(1.0,1.1)" text-anchor="middle" style="font-family:'Liberation Serif',serif;font-weight:bold;font-size:23.5px">5</text>
<path d="M981.5,268.0 V260.3" stroke="#000" stroke-width="1.1" fill="none"/>
<path d="M978.1,260.3 H984.9" stroke="#000" stroke-width="1.3" fill="none"/>
<rect x="954.9" y="268.7" width="53.1" height="93.3" fill="#f00" stroke="#000" stroke-width="1.4"/>
<text transform="translate(981.45,387.60) scale(1.0,1.1)" text-anchor="middle" style="font-family:'Liberation Serif',serif;font-weight:bold;font-size:23.5px">6</text>
<path d="M606.9000000000001,362.0 H1016" stroke="#000" stroke-width="1.7" fill="none"/>
<text x="515.60" y="55.00" style="font-family:'Liberation Serif',serif;font-weight:bold;font-size:27.5px">(B)</text>
<text transform="translate(543,342.5) rotate(-90)" style="font-family:'Liberation Serif',serif;font-weight:bold;font-size:33.2px">FL intensity (a.u.)</text>
</svg>
</body></html>
